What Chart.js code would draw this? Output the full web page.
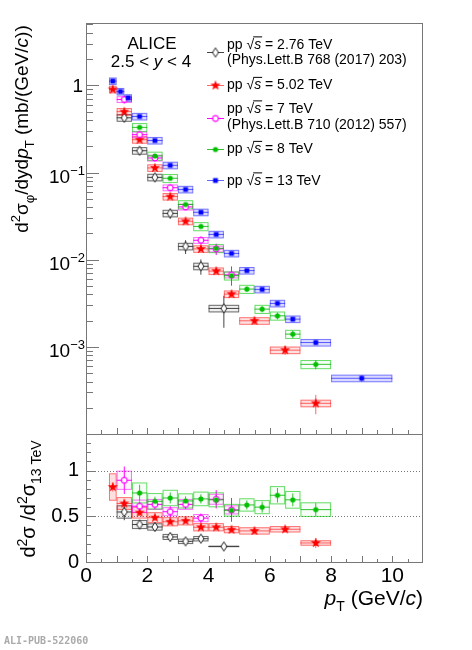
<!DOCTYPE html>
<html>
<head>
<meta charset="utf-8">
<script src="https://cdn.jsdelivr.net/npm/chart.js@4.4.1/dist/chart.umd.min.js"></script>
<style>
  body { margin: 0; background: #fff; }
  #wrap { position: relative; width: 472px; height: 650px; }
  #wrap canvas { position: absolute; left: 0; top: 0; }
  #tag { position: absolute; left: 4px; top: 635px; font: bold 10px "DejaVu Sans Mono", monospace; color: #aaa; }
</style>
</head>
<body>
<div id="wrap">
  <canvas id="spectra" width="472" height="650"></canvas>
  <canvas id="ratio" width="472" height="650"></canvas>
  <div id="tag">ALI-PUB-522060</div>
</div>
<script>
const FONT = '"Liberation Sans", Arial, Helvetica, sans-serif';

// pT bins (GeV/c), d2sigma/dydpT (mb/(GeV/c)), relative stat errors,
// and the ratio to 13 TeV with its stat / syst errors
const lo276 = [1, 1.5, 2, 2.5, 3, 3.5, 4];
const hi276 = [1.5, 2, 2.5, 3, 3.5, 4, 5];
const xsec276 = [0.425, 0.178, 0.088, 0.034, 0.0142, 0.0084, 0.00276];
const stat276 = [0.06, 0.06, 0.07, 0.13, 0.18, 0.2, 0.4];
const ratio276 = [0.547, 0.41, 0.383, 0.274, 0.226, 0.255, 0.17];
const ratioStat276 = [0.09, 0.04, 0.03, 0.03, 0.03, 0.03, 0.03];
const ratioSys276 = [0.073, 0.05, 0.04, 0.033, 0.03, 0.03, 0.008];

const lo502 = [0.75, 1, 1.5, 2, 2.5, 3, 3.5, 4, 4.5, 5, 6, 7];
const hi502 = [1, 1.5, 2, 2.5, 3, 3.5, 4, 4.5, 5, 6, 7, 8];
const xsec502 = [0.90, 0.50, 0.238, 0.113, 0.053, 0.0276, 0.0133, 0.0074, 0.00403, 0.00199, 0.000916, 0.000225];
const stat502 = [0.04, 0.03, 0.03, 0.03, 0.03, 0.04, 0.05, 0.06, 0.07, 0.08, 0.12, 0.25];
const ratio502 = [0.82, 0.64, 0.54, 0.485, 0.44, 0.45, 0.38, 0.38, 0.354, 0.34, 0.358, 0.208];
const ratioStat502 = [0.05, 0.04, 0.03, 0.03, 0.02, 0.02, 0.02, 0.02, 0.02, 0.02, 0.03, 0.055];
const ratioSys502 = [0.15, 0.07, 0.065, 0.06, 0.05, 0.05, 0.045, 0.045, 0.04, 0.04, 0.035, 0.03];

const lo7 = [1, 1.5, 2, 2.5, 3, 3.5, 4, 4.5];
const hi7 = [1.5, 2, 2.5, 3, 3.5, 4, 4.5, 5];
const xsec7 = [0.69, 0.272, 0.147, 0.067, 0.0403, 0.0167, 0.0133, 0.0067];
const stat7 = [0.1, 0.06, 0.06, 0.08, 0.08, 0.1, 0.15, 0.25];
const ratio7 = [0.894, 0.61, 0.63, 0.55, 0.63, 0.48, 0.686, 0.57];
const ratioStat7 = [0.15, 0.05, 0.05, 0.06, 0.05, 0.05, 0.1, 0.13];
const ratioSys7 = [0.105, 0.073, 0.06, 0.05, 0.06, 0.045, 0.06, 0.05];

const lo8 = [1.5, 2, 2.5, 3, 3.5, 4, 4.5, 5, 5.5, 6, 6.5, 7];
const hi8 = [2, 2.5, 3, 3.5, 4, 4.5, 5, 5.5, 6, 6.5, 7, 8];
const xsec8 = [0.33, 0.155, 0.086, 0.043, 0.0241, 0.0135, 0.00655, 0.0046, 0.00271, 0.00227, 0.0014, 0.00063];
const stat8 = [0.03, 0.03, 0.04, 0.04, 0.05, 0.05, 0.07, 0.07, 0.08, 0.09, 0.1, 0.12];
const ratio8 = [0.755, 0.664, 0.70, 0.668, 0.69, 0.68, 0.566, 0.624, 0.60, 0.73, 0.68, 0.573];
const ratioStat8 = [0.09, 0.05, 0.06, 0.05, 0.05, 0.05, 0.06, 0.05, 0.06, 0.08, 0.07, 0.07];
const ratioSys8 = [0.115, 0.09, 0.09, 0.083, 0.08, 0.082, 0.07, 0.073, 0.077, 0.1, 0.097, 0.08];

const lo13 = [0.75, 1, 1.25, 1.5, 2, 2.5, 3, 3.5, 4, 4.5, 5, 5.5, 6, 6.5, 7, 8];
const hi13 = [1, 1.25, 1.5, 2, 2.5, 3, 3.5, 4, 4.5, 5, 5.5, 6, 6.5, 7, 8, 10];
const xsec13 = [1.12, 0.85, 0.72, 0.44, 0.233, 0.121, 0.064, 0.035, 0.0195, 0.0118, 0.0075, 0.00456, 0.00315, 0.00208, 0.00112, 0.000436];
const stat13 = [0.02, 0.02, 0.02, 0.02, 0.02, 0.02, 0.03, 0.03, 0.03, 0.04, 0.04, 0.05, 0.05, 0.06, 0.06, 0.08];

const energies = ['2.76', '5.02', '7', '8', '13'];
const references = ['(Phys.Lett.B 768 (2017) 203)', '', '(Phys.Lett.B 710 (2012) 557)', '', ''];
const ratioTickLabels = ['0', '0.5', '1'];

// marker images
function markerCanvas(size, paint) {
  const c = document.createElement('canvas');
  c.width = size; c.height = size;
  const g = c.getContext('2d');
  g.translate(size / 2, size / 2);
  paint(g);
  return c;
}
const diamondMark = markerCanvas(12, g => {
  g.beginPath(); g.moveTo(0, -4.6); g.lineTo(3, 0); g.lineTo(0, 4.6); g.lineTo(-3, 0); g.closePath();
  g.fillStyle = '#fff'; g.fill(); g.strokeStyle = '#222'; g.lineWidth = 1; g.stroke();
});
const starMark = markerCanvas(12, g => {
  g.beginPath();
  for (let i = 0; i < 10; i++) {
    const r = i % 2 ? 2.2 : 5.3, a = -Math.PI / 2 + i * Math.PI / 5;
    g.lineTo(r * Math.cos(a), r * Math.sin(a));
  }
  g.closePath(); g.fillStyle = '#ff0000'; g.fill();
});
const openCircleMark = markerCanvas(10, g => {
  g.beginPath(); g.arc(0, 0, 2.9, 0, 2 * Math.PI);
  g.fillStyle = '#fff'; g.fill(); g.strokeStyle = '#ff00ff'; g.lineWidth = 1.2; g.stroke();
});
const dotMark = markerCanvas(8, g => {
  g.beginPath(); g.arc(0, 0, 2.6, 0, 2 * Math.PI); g.fillStyle = '#00c000'; g.fill();
});
const squareMark = markerCanvas(8, g => {
  g.fillStyle = '#0000ff'; g.fillRect(-2.4, -2.4, 4.8, 4.8);
});

const series = [
  { lo: lo276, hi: hi276, val: xsec276, stat: stat276, sys: 0.10, r: ratio276, rStat: ratioStat276, rSys: ratioSys276,
    mark: diamondMark, bar: '#444', box: 'rgba(50,50,50,0.7)', fill: 'rgba(50,50,50,0.08)' },
  { lo: lo502, hi: hi502, val: xsec502, stat: stat502, sys: 0.10, r: ratio502, rStat: ratioStat502, rSys: ratioSys502,
    mark: starMark, bar: 'rgba(255,40,40,0.7)', box: 'rgba(255,0,0,0.5)', fill: 'rgba(255,0,0,0.12)' },
  { lo: lo7, hi: hi7, val: xsec7, stat: stat7, sys: 0.09, r: ratio7, rStat: ratioStat7, rSys: ratioSys7,
    mark: openCircleMark, bar: '#ff00ff', box: 'rgba(255,0,255,0.55)', fill: 'rgba(255,0,255,0.05)' },
  { lo: lo8, hi: hi8, val: xsec8, stat: stat8, sys: 0.12, r: ratio8, rStat: ratioStat8, rSys: ratioSys8,
    mark: dotMark, bar: 'rgba(0,180,0,0.8)', box: 'rgba(0,200,0,0.6)', fill: 'rgba(0,200,0,0.03)' },
  { lo: lo13, hi: hi13, val: xsec13, stat: stat13, sys: 0.10, r: null,
    mark: squareMark, bar: 'rgba(0,0,255,0.6)', box: 'rgba(0,0,255,0.45)', fill: 'rgba(0,0,255,0.15)' }
];

// text with italic / super / subscript pieces
function partFont(p, size) {
  const s = (p.sup || p.sub) ? Math.round(size * 0.68) : size;
  return (p.it ? 'italic ' : '') + s + 'px ' + FONT;
}
function drawRich(ctx, parts, x, y, size, align) {
  let w = 0;
  parts.forEach(p => { ctx.font = partFont(p, size); p.w = ctx.measureText(p.t).width; w += p.w; });
  let cx = align === 'right' ? x - w : align === 'center' ? x - w / 2 : x;
  ctx.textAlign = 'left'; ctx.textBaseline = 'alphabetic'; ctx.fillStyle = '#000';
  parts.forEach(p => {
    ctx.font = partFont(p, size);
    const dy = p.sup ? -size * 0.42 : p.sub ? size * 0.3 : 0;
    ctx.fillText(p.t, cx, y + dy);
    if (p.bar) {
      ctx.strokeStyle = '#000'; ctx.lineWidth = 1;
      ctx.beginPath(); ctx.moveTo(cx - 1, y - size * 0.83); ctx.lineTo(cx + p.w + 1, y - size * 0.83); ctx.stroke();
    }
    cx += p.w;
  });
  return w;
}

function drawErrors(chart, getVal, getLow, getHigh, getStatLo, getStatHi, which) {
  const ctx = chart.ctx, xs = chart.scales.x, ys = chart.scales.y, a = chart.chartArea;
  ctx.save();
  ctx.beginPath(); ctx.rect(a.left, a.top, a.right - a.left, a.bottom - a.top); ctx.clip();
  which.forEach(s => {
    s.lo.forEach((lo, i) => {
      const x0 = xs.getPixelForValue(lo), x1 = xs.getPixelForValue(s.hi[i]);
      const y0 = ys.getPixelForValue(getHigh(s, i)), y1 = ys.getPixelForValue(getLow(s, i));
      ctx.fillStyle = s.fill; ctx.fillRect(x0, y0, x1 - x0, y1 - y0);
      ctx.strokeStyle = s.box; ctx.lineWidth = 1;
      ctx.strokeRect(x0 + 0.5, y0 + 0.5, x1 - x0 - 1, y1 - y0 - 1);
      const xc = (x0 + x1) / 2, yc = ys.getPixelForValue(getVal(s, i));
      ctx.strokeStyle = s.bar;
      ctx.beginPath();
      ctx.moveTo(x0, yc); ctx.lineTo(x1, yc);
      ctx.moveTo(xc, ys.getPixelForValue(getStatLo(s, i))); ctx.lineTo(xc, ys.getPixelForValue(getStatHi(s, i)));
      ctx.stroke();
    });
  });
  ctx.restore();
}

function frame(ctx, a) {
  ctx.strokeStyle = '#777'; ctx.lineWidth = 1;
  ctx.strokeRect(a.left + 0.5, a.top + 0.5, a.right - a.left - 1, a.bottom - a.top);
}

const spectraPlugin = {
  id: 'spectraDeco',
  beforeDatasetsDraw(chart) {
    drawErrors(chart,
      (s, i) => s.val[i],
      (s, i) => s.val[i] * (1 - s.sys), (s, i) => s.val[i] * (1 + s.sys),
      (s, i) => s.val[i] * (1 - s.stat[i]), (s, i) => s.val[i] * (1 + s.stat[i]),
      series);
  },
  afterDraw(chart) {
    const ctx = chart.ctx, a = chart.chartArea, xs = chart.scales.x, ys = chart.scales.y;
    ctx.save();
    frame(ctx, a);
    // log ticks on the left
    ctx.strokeStyle = '#777';
    ctx.beginPath();
    for (let e = -4; e <= 0; e++) {
      for (let m = 1; m <= 9; m++) {
        const v = m * Math.pow(10, e);
        if (v < ys.min || v > ys.max) continue;
        const py = Math.round(ys.getPixelForValue(v)) + 0.5;
        ctx.moveTo(a.left, py); ctx.lineTo(a.left + (m === 1 ? 13 : 7), py);
      }
    }
    for (let v = 0.5; v < 11; v += 0.5) {
      const px = Math.round(xs.getPixelForValue(v)) + 0.5;
      ctx.moveTo(px, a.bottom); ctx.lineTo(px, a.bottom - (v % 1 === 0 ? 6 : 4));
    }
    ctx.stroke();
    // decade labels
    for (let e = -3; e <= 0; e++) {
      const py = ys.getPixelForValue(Math.pow(10, e));
      if (e === 0) drawRich(ctx, [{ t: '1' }], 83, py + 7, 19, 'right');
      else drawRich(ctx, [{ t: '10' }, { t: '\u2212' + (-e), sup: true }], 85, py + 10, 19, 'right');
    }
    // y title
    ctx.save();
    ctx.translate(28, 129); ctx.rotate(-Math.PI / 2);
    drawRich(ctx, [{ t: 'd' }, { t: '2', sup: true }, { t: '\u03c3' }, { t: '\u03c6', sub: true }, { t: '/dyd' },
      { t: 'p', it: true }, { t: 'T', sub: true }, { t: ' (mb/(GeV/' }, { t: 'c', it: true }, { t: '))' }], 0, 0, 19, 'center');
    ctx.restore();
    // ALICE label
    drawRich(ctx, [{ t: 'ALICE' }], 152, 49, 17, 'center');
    drawRich(ctx, [{ t: '2.5 < ' }, { t: 'y', it: true }, { t: ' < 4' }], 151, 67, 17, 'center');
    // legend
    const markY = [52, 85, 118, 149, 180];
    const textY = [[48.5, 63.5], [89], [112.5, 128.5], [153], [184.5]];
    series.forEach((s, k) => {
      ctx.strokeStyle = s.bar; ctx.lineWidth = 1;
      ctx.beginPath(); ctx.moveTo(207, markY[k] + 0.5); ctx.lineTo(224, markY[k] + 0.5); ctx.stroke();
      ctx.drawImage(s.mark, 215.5 - s.mark.width / 2, markY[k] + 0.5 - s.mark.height / 2);
      drawRich(ctx, [{ t: 'pp ' }, { t: '\u221a' }, { t: 's', it: true, bar: true }, { t: ' = ' + energies[k] + ' TeV' }],
        227, textY[k][0], 14, 'left');
      if (references[k]) drawRich(ctx, [{ t: references[k] }], 227, textY[k][1], 14, 'left');
    });
    ctx.restore();
  }
};

const ratioPlugin = {
  id: 'ratioDeco',
  beforeDatasetsDraw(chart) {
    const ctx = chart.ctx, a = chart.chartArea, ys = chart.scales.y;
    ctx.save();
    ctx.strokeStyle = '#777'; ctx.setLineDash([1, 2]);
    ctx.beginPath();
    [0.5, 1].forEach(v => {
      const py = Math.round(ys.getPixelForValue(v)) + 0.5;
      ctx.moveTo(a.left, py); ctx.lineTo(a.right, py);
    });
    ctx.stroke();
    ctx.restore();
    drawErrors(chart,
      (s, i) => s.r[i],
      (s, i) => s.r[i] - s.rSys[i], (s, i) => s.r[i] + s.rSys[i],
      (s, i) => s.r[i] - s.rStat[i], (s, i) => s.r[i] + s.rStat[i],
      series.filter(s => s.r));
  },
  afterDraw(chart) {
    const ctx = chart.ctx, a = chart.chartArea, xs = chart.scales.x, ys = chart.scales.y;
    ctx.save();
    frame(ctx, a);
    ctx.strokeStyle = '#777';
    ctx.beginPath();
    for (let k = 0; k <= 13; k++) {
      const py = Math.round(ys.getPixelForValue(k / 10)) + 0.5;
      ctx.moveTo(a.left, py); ctx.lineTo(a.left + (k % 5 === 0 ? 9 : 5), py);
    }
    for (let v = 0.5; v < 11; v += 0.5) {
      const px = Math.round(xs.getPixelForValue(v)) + 0.5;
      ctx.moveTo(px, a.bottom); ctx.lineTo(px, a.bottom - (v % 1 === 0 ? 6 : 3));
    }
    ctx.stroke();
    // y title
    ctx.save();
    ctx.translate(35, 499); ctx.rotate(-Math.PI / 2);
    drawRich(ctx, [{ t: 'd' }, { t: '2', sup: true }, { t: '\u03c3' }, { t: ' /d' }, { t: '2', sup: true },
      { t: '\u03c3' }, { t: '13 TeV', sub: true }], 0, 0, 20, 'center');
    ctx.restore();
    // x title
    drawRich(ctx, [{ t: 'p', it: true }, { t: 'T', sub: true }, { t: ' (GeV/' }, { t: 'c', it: true }, { t: ')' }],
      423, 605, 21, 'right');
    ctx.restore();
  }
};

function datasetsFor(getY, which) {
  return which.map(s => ({
    data: s.lo.map((lo, i) => ({ x: (lo + s.hi[i]) / 2, y: getY(s, i) })),
    pointStyle: s.mark, pointRadius: 4, showLine: false
  })).reverse();
}

const commonOpts = { responsive: false, animation: false, events: [], plugins: { legend: { display: false }, tooltip: { enabled: false } } };

new Chart(document.getElementById('spectra'), {
  type: 'scatter',
  data: { datasets: datasetsFor((s, i) => s.val[i], series) },
  options: Object.assign({}, commonOpts, {
    layout: { autoPadding: false, padding: { left: 0, right: 49, top: 23, bottom: 216 } },
    scales: {
      x: { type: 'linear', min: 0, max: 11, ticks: { display: false }, grid: { display: false, drawTicks: false }, border: { display: false },
        afterFit(s) { s.height = 0; } },
      y: { type: 'logarithmic', min: 1e-4, max: 5.2, ticks: { display: false }, grid: { display: false, drawTicks: false }, border: { display: false },
        afterFit(s) { s.width = 86; } }
    }
  }),
  plugins: [spectraPlugin]
});

new Chart(document.getElementById('ratio'), {
  type: 'scatter',
  data: { datasets: datasetsFor((s, i) => s.r[i], series.filter(s => s.r)) },
  options: Object.assign({}, commonOpts, {
    layout: { autoPadding: false, padding: { left: 0, right: 49, top: 434, bottom: 0 } },
    scales: {
      x: { type: 'linear', min: 0, max: 11,
        afterBuildTicks(s) { s.ticks = [0, 2, 4, 6, 8, 10].map(v => ({ value: v })); },
        ticks: { autoSkip: false, maxRotation: 0, padding: 2, color: '#000', font: { size: 21, family: FONT } },
        grid: { display: false, drawTicks: false }, border: { display: false },
        afterFit(s) { s.height = 88; } },
      y: { type: 'linear', min: 0, max: 1.4,
        afterBuildTicks(s) { s.ticks = [0, 0.5, 1].map(v => ({ value: v })); },
        ticks: { autoSkip: false, padding: 7, color: '#000', font: { size: 20, family: FONT },
          callback: (v, i) => ratioTickLabels[i] },
        grid: { display: false, drawTicks: false }, border: { display: false },
        afterFit(s) { s.width = 86; } }
    }
  }),
  plugins: [ratioPlugin]
});
</script>
</body>
</html>
